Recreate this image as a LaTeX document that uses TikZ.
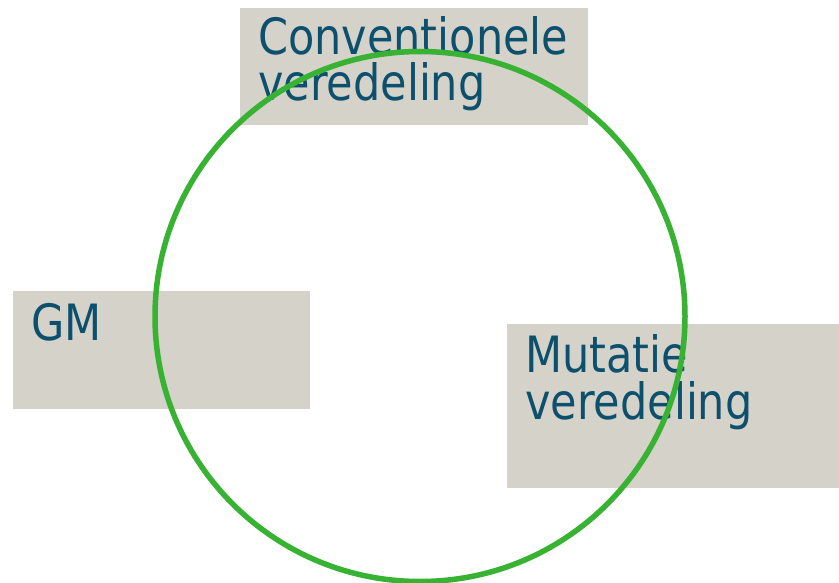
\documentclass[tikz,border=0pt]{standalone}
\usepackage{fontspec}
\setmainfont[FakeStretch=0.86]{DejaVu Sans}
\definecolor{boxgray}{RGB}{213,210,201}
\definecolor{txtblue}{RGB}{12,80,110}
\definecolor{ringgreen}{RGB}{56,178,50}
\begin{document}
\begin{tikzpicture}[x=1pt,y=-1pt,
  panel/.style={fill=boxgray,draw=none,inner sep=0pt,anchor=north west},
  lbl/.style={text=txtblue,inner sep=0pt,anchor=base west,font=\fontsize{50pt}{46pt}\selectfont},
  ring/.style={draw=ringgreen,line width=5.5pt,circle,inner sep=0pt,minimum size=530pt}]
\useasboundingbox (0,0) rectangle (839,583);
\node[panel,minimum width=348pt,minimum height=117pt] (convbox) at (240,8) {};
\node[panel,minimum width=297pt,minimum height=118pt] (gmbox) at (13,291) {};
\node[panel,minimum width=332pt,minimum height=164pt] (mutbox) at (507,324) {};
\node[lbl] (conv1) at (258,55) {Conventionele};
\node[lbl] (conv2) at (258,101) {veredeling};
\node[lbl] (gm) at (31,340) {GM};
\node[lbl] (mut1) at (525,372) {Mutatie};
\node[lbl] (mut2) at (525,419) {veredeling};
\node[ring] (circ) at (420,316.5) {};
\end{tikzpicture}
\end{document}
